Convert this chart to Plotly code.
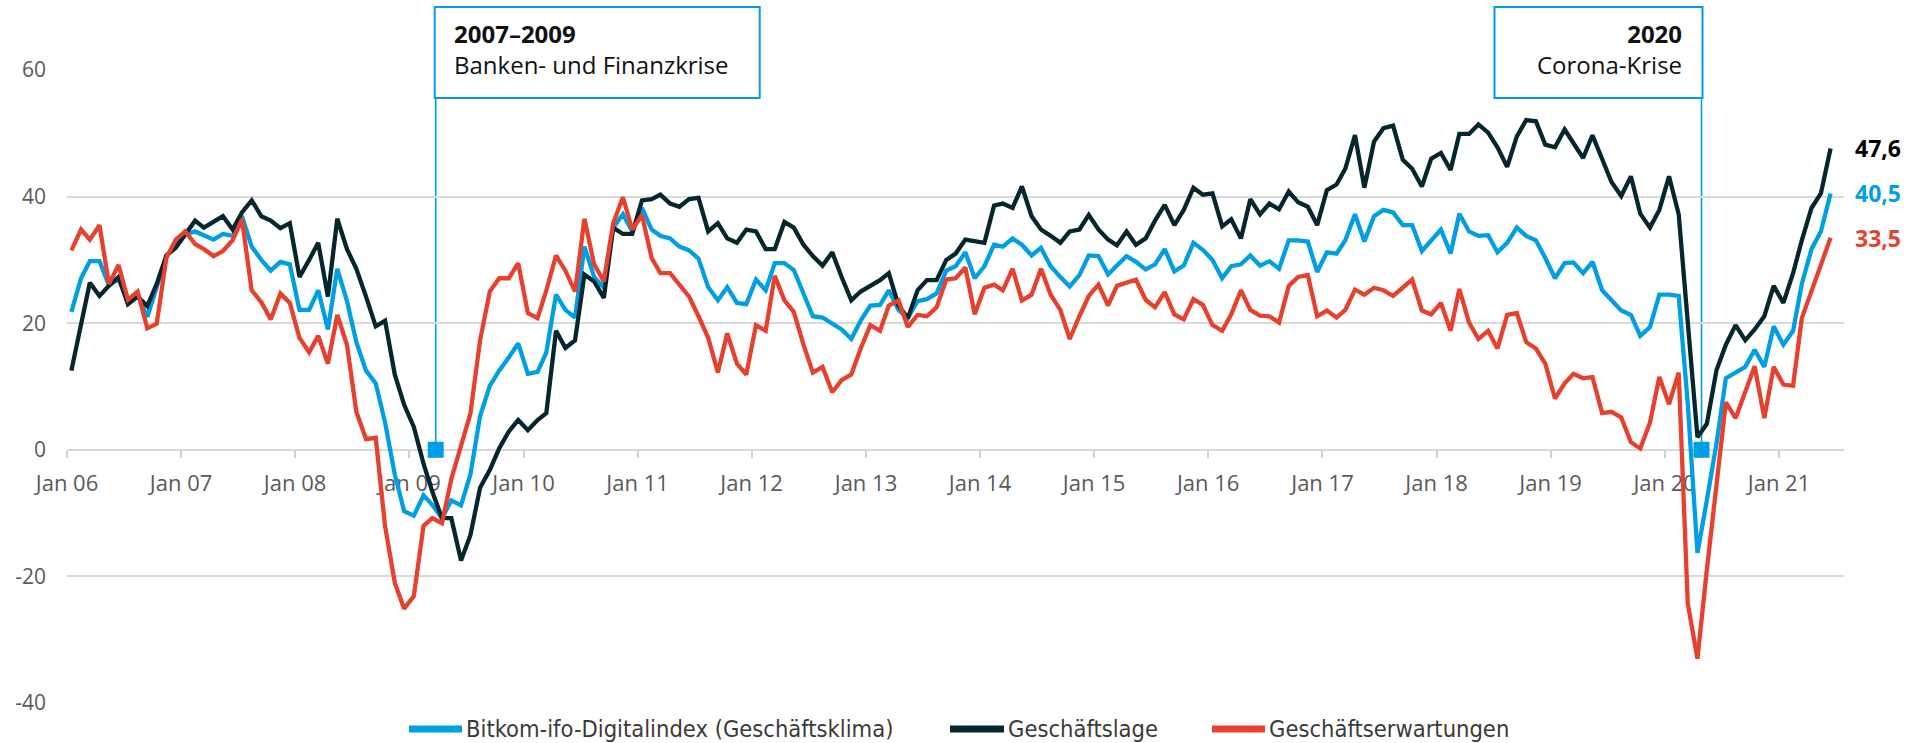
import pandas as pd
import plotly.graph_objects as go

# ---------------- data ----------------
first_month = "2006-01-01"
n_months = 186  # Jan 2006 .. Jun 2021
months = pd.date_range(first_month, periods=n_months, freq="MS") + pd.Timedelta(days=14)

geschaeftsklima = [
    21.8, 27.1, 29.8, 29.8, 26.0, 27.0, 23.5, 24.5, 21.0, 25.5, 30.5, 32.5,
    34.0, 34.5, 33.8, 33.2, 34.1, 33.8, 36.9, 32.1, 30.0, 28.3, 29.7, 29.3,
    22.1, 22.1, 25.2, 19.0, 28.6, 23.5, 17.0, 12.5, 10.5, 4.3, -3.9, -9.7,
    -10.4, -7.2, -8.7, -10.8, -8.0, -8.8, -3.9, 5.3, 10.1, 12.5, 14.6, 16.8,
    12.0, 12.3, 15.4, 24.5, 22.1, 20.9, 32.1, 27.3, 25.6, 35.1, 37.2, 34.5,
    38.2, 34.8, 33.8, 33.4, 32.1, 31.5, 30.2, 25.7, 23.6, 25.7, 23.2, 23.0,
    26.9, 25.2, 29.5, 29.5, 28.4, 24.5, 21.1, 20.9, 19.9, 19.0, 17.5, 20.4,
    22.8, 22.9, 25.2, 22.1, 20.8, 23.5, 23.8, 24.7, 28.3, 29.0, 31.2, 27.1,
    29.0, 32.4, 32.1, 33.4, 32.4, 30.7, 31.9, 29.0, 27.3, 25.8, 27.6, 30.7,
    30.6, 27.7, 29.1, 30.6, 29.7, 28.5, 29.3, 31.7, 28.2, 29.1, 32.7, 31.6,
    30.0, 27.1, 29.0, 29.3, 30.7, 29.1, 29.8, 28.6, 33.1, 33.1, 32.9, 28.1,
    31.2, 31.0, 33.1, 37.2, 32.9, 36.9, 37.9, 37.5, 35.5, 35.5, 31.4, 33.2,
    34.8, 31.0, 37.3, 34.5, 33.8, 33.9, 31.2, 32.7, 35.1, 33.8, 33.1, 30.3,
    27.1, 29.5, 29.6, 27.9, 29.7, 25.2, 23.6, 22.0, 21.3, 18.0, 19.4, 24.5,
    24.5, 24.3, 7.3, -16.3, -8.0, 1.0, 11.3, 12.2, 13.1, 15.8, 13.1, 19.5,
    16.6, 18.8, 26.2, 31.7, 34.5, 40.5,
]

geschaeftslage = [
    12.5, 19.4, 26.4, 24.3, 25.9, 27.3, 23.0, 24.2, 22.7, 26.2, 30.7, 31.9,
    34.1, 36.2, 35.1, 36.0, 36.9, 34.8, 37.5, 39.4, 36.9, 36.2, 35.0, 35.8,
    27.3, 30.0, 32.7, 24.2, 36.5, 31.7, 28.6, 24.2, 19.5, 20.4, 11.9, 7.1,
    3.6, -2.2, -6.6, -10.8, -10.8, -17.5, -13.5, -6.0, -3.2, 0.2, 2.9, 4.7,
    3.1, 4.7, 5.8, 18.8, 16.1, 17.3, 27.7, 26.6, 24.0, 35.1, 34.1, 34.1,
    39.4, 39.6, 40.3, 38.9, 38.4, 39.6, 39.8, 34.5, 35.8, 33.4, 32.7, 34.8,
    34.5, 31.7, 31.7, 36.0, 35.1, 32.4, 30.6, 29.1, 31.2, 27.3, 23.6, 25.0,
    25.9, 26.8, 27.9, 22.8, 20.8, 25.2, 26.8, 26.8, 30.0, 31.0, 33.2, 32.9,
    32.7, 38.6, 38.9, 38.2, 41.6, 36.9, 34.8, 33.8, 32.7, 34.5, 34.8, 37.1,
    34.8, 33.2, 32.3, 34.5, 32.4, 33.4, 36.2, 38.7, 35.5, 37.9, 41.4, 40.3,
    40.5, 35.3, 36.4, 33.4, 39.6, 37.2, 38.9, 38.0, 40.8, 39.1, 38.4, 35.5,
    41.0, 41.9, 44.4, 49.7, 41.4, 48.7, 50.8, 51.2, 45.8, 44.4, 41.6, 46.0,
    46.9, 44.2, 49.9, 49.9, 51.4, 50.1, 47.8, 44.7, 49.5, 52.1, 51.9, 48.2,
    47.8, 50.6, 48.5, 46.1, 49.7, 46.1, 42.3, 40.1, 43.2, 37.3, 35.1, 37.9,
    43.2, 37.2, 20.0, 2.0, 4.1, 12.6, 16.6, 19.7, 17.3, 19.0, 21.1, 25.9,
    23.2, 27.9, 33.1, 38.2, 40.5, 47.6,
]

geschaeftserwartungen = [
    31.5, 34.8, 33.2, 35.5, 26.2, 29.2, 23.7, 25.0, 19.2, 19.9, 30.3, 33.2,
    34.5, 32.5, 31.7, 30.6, 31.4, 33.1, 36.4, 25.2, 23.3, 20.6, 24.7, 23.2,
    17.7, 15.4, 18.0, 13.6, 21.3, 16.6, 6.0, 1.7, 1.9, -12.1, -21.0, -25.1,
    -23.1, -12.0, -10.8, -11.6, -4.6, 0.5, 5.7, 17.3, 25.0, 27.1, 27.1, 29.5,
    21.6, 20.8, 25.2, 30.7, 28.3, 25.0, 36.5, 29.3, 26.6, 35.8, 39.9, 34.8,
    37.1, 30.3, 27.9, 27.9, 26.2, 24.2, 21.1, 17.7, 12.2, 18.4, 13.6, 11.9,
    19.7, 18.8, 27.5, 23.6, 21.8, 16.6, 12.2, 13.1, 9.1, 11.0, 11.9, 16.0,
    19.7, 18.8, 22.8, 23.6, 19.4, 21.3, 21.1, 22.5, 26.9, 27.1, 28.8, 21.4,
    25.6, 26.1, 25.2, 28.6, 23.6, 24.5, 28.6, 24.5, 22.1, 17.5, 21.1, 24.3,
    26.1, 22.8, 25.9, 26.4, 26.9, 23.7, 22.5, 24.9, 21.4, 20.6, 23.8, 22.9,
    19.7, 18.8, 21.4, 25.2, 22.1, 21.2, 21.1, 20.1, 25.9, 27.3, 27.6, 21.1,
    22.0, 20.9, 22.1, 25.3, 24.5, 25.6, 25.2, 24.3, 25.6, 26.9, 22.0, 21.4,
    23.2, 18.8, 25.4, 20.1, 17.5, 18.8, 16.0, 21.3, 21.6, 17.0, 16.0, 13.6,
    8.1, 10.5, 12.0, 11.3, 11.5, 5.8, 6.0, 5.1, 1.2, 0.2, 4.3, 11.5,
    7.2, 12.2, -24.3, -33.0, -19.0, -5.5, 7.5, 5.0, 9.2, 13.2, 5.0, 13.1,
    10.3, 10.1, 20.8, 25.2, 29.0, 33.5,
]

series_names = [
    "Bitkom-ifo-Digitalindex (Geschäftsklima)",
    "Geschäftslage",
    "Geschäftserwartungen",
]
series_values = [geschaeftsklima, geschaeftslage, geschaeftserwartungen]
series_colors = ["#009ee3", "#06262e", "#e6412e"]
end_label_colors = ["#009ee3", "#000000", "#e6412e"]

y_ticks = [-40, -20, 0, 20, 40, 60]
y_ticktext = [str(v) for v in y_ticks]

crisis_dates = ["2009-03-26", "2020-04-28"]
crisis_titles = ["2007–2009", "2020"]
crisis_texts = ["Banken- und Finanzkrise", "Corona-Krise"]
crisis_box_side = ["right", "left"]   # side of the line the box extends to

# ---------------- layout geometry ----------------
W, H = 1915, 743
ML, MR, MT, MB = 67, 71, 70, 40
PW, PH = W - ML - MR, H - MT - MB
x_start = pd.Timestamp("2006-01-01")
x_end = pd.Timestamp("2021-07-28")

ACCENT = "#009ee3"
FONT = "Open Sans, Noto Sans, sans-serif"
LEG_FONT = "DejaVu Sans Condensed, Liberation Sans Narrow, Roboto, sans-serif"


def paper_x(px):
    return (px - ML) / PW


def paper_y(py):
    return (H - MB - py) / PH


def date_frac(d):
    d = pd.Timestamp(d)
    return (d - x_start) / (x_end - x_start)


fig = go.Figure()

for name, vals, col in zip(series_names, series_values, series_colors):
    fig.add_trace(go.Scatter(
        x=months, y=vals, mode="lines", name=name,
        line=dict(color=col, width=4.3),
        showlegend=False,
    ))

# crisis markers (square at y = 0)
fig.add_trace(go.Scatter(
    x=[pd.Timestamp(d) for d in crisis_dates], y=[0, 0], mode="markers",
    marker=dict(symbol="square", size=16, color=ACCENT, line=dict(width=0)),
    showlegend=False, hoverinfo="skip", cliponaxis=False,
))

shapes = []
annotations = []

box_top = paper_y(7)
box_bottom = paper_y(98)
zero_frac = (0 - y_ticks[0]) / (y_ticks[-1] - y_ticks[0])

for d, title, text, side in zip(crisis_dates, crisis_titles, crisis_texts, crisis_box_side):
    f = date_frac(d)
    # vertical line from the marker up to the box
    shapes.append(dict(type="line", xref="paper", yref="paper",
                       x0=f, x1=f, y0=zero_frac, y1=box_bottom,
                       line=dict(color=ACCENT, width=1.6), layer="between"))
    if side == "right":
        x0, x1 = -1, 324
    else:
        x0, x1 = -207, 1
    shapes.append(dict(type="rect", xref="paper", yref="paper",
                       xsizemode="pixel", xanchor=f, x0=x0, x1=x1,
                       y0=box_bottom, y1=box_top,
                       line=dict(color=ACCENT, width=2), fillcolor="white",
                       layer="above"))
    annotations.append(dict(
        xref="paper", yref="paper", x=f, y=paper_y(49),
        xshift=16 if side == "right" else -18,
        xanchor="left" if side == "right" else "right", yanchor="middle",
        align="left" if side == "right" else "right",
        text=f"<b>{title}</b><br>{text}", showarrow=False,
        font=dict(family=FONT, size=24, color="#111111"),
    ))

# end labels
for vals, col in zip(series_values, end_label_colors):
    v = vals[-1]
    annotations.append(dict(
        xref="paper", yref="y", x=1, y=v, xshift=9,
        xanchor="left", yanchor="middle",
        text="<b>" + f"{v:.1f}".replace(".", ",") + "</b>", showarrow=False,
        font=dict(family=FONT, size=23, color=col),
    ))

# manual legend
legend_y_px = 729
legend_items_px = [(409, 462, 464), (950, 1004, 1006), (1212, 1265, 1267)]
for (s0, s1, tx), name, col in zip(legend_items_px, series_names, series_colors):
    shapes.append(dict(type="line", xref="paper", yref="paper",
                       x0=paper_x(s0), x1=paper_x(s1),
                       y0=paper_y(legend_y_px), y1=paper_y(legend_y_px),
                       line=dict(color=col, width=7)))
    annotations.append(dict(
        xref="paper", yref="paper", x=paper_x(tx), y=paper_y(legend_y_px),
        xanchor="left", yanchor="middle", text=name, showarrow=False,
        font=dict(family=LEG_FONT, size=23.5, color="#3a3a3a"),
    ))

fig.update_layout(
    width=W, height=H,
    margin=dict(l=ML, r=MR, t=MT, b=MB, pad=0, autoexpand=False),
    paper_bgcolor="white", plot_bgcolor="white",
    showlegend=False,
    shapes=shapes, annotations=annotations,
    xaxis=dict(
        type="date", range=[x_start, x_end],
        tick0="2006-01-01", dtick="M12", tickformat="%b %y",
        ticks="outside", ticklen=7, tickwidth=1.5, tickcolor="#d0d0d0",
        showgrid=False, zeroline=False,
        showline=True, linecolor="#d9d9d9", linewidth=1.5,
        anchor="free", position=zero_frac,
        layer="below traces",
        tickfont=dict(family=FONT, size=22, color="#5a5a5a"),
        ticklabelstandoff=7,
    ),
    yaxis=dict(
        range=[y_ticks[0], y_ticks[-1]], tickvals=y_ticks, ticktext=y_ticktext,
        showgrid=True, gridcolor="#dadada", gridwidth=1.5,
        zeroline=False, showline=False, ticks="",
        tickfont=dict(family=FONT, size=21, color="#5a5a5a"),
        ticklabelstandoff=20,
    ),
)

fig.write_html(
    "out.html",
    config={"displayModeBar": False},
    post_script="document.body.style.margin='0px';document.body.style.overflow='hidden';",
)
